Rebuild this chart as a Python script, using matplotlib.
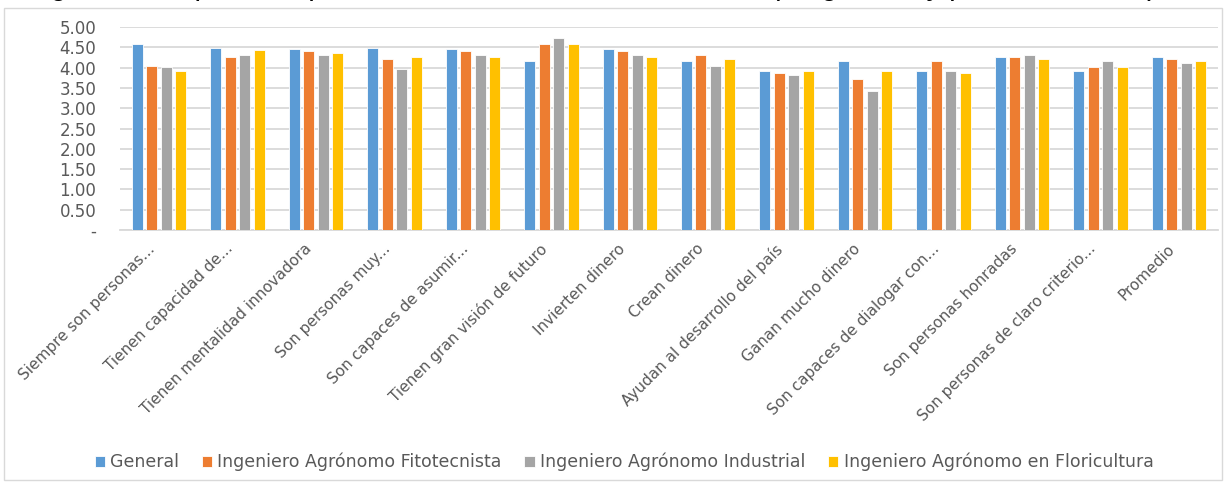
import numpy as np
import matplotlib
matplotlib.use("Agg")
import matplotlib.pyplot as plt
import matplotlib.transforms as mtransforms
from matplotlib.patches import Rectangle
from matplotlib.ticker import FuncFormatter

categories = [
    "Siempre son personas...", "Tienen capacidad de...", "Tienen mentalidad innovadora",
    "Son personas muy...", "Son capaces de asumir...", "Tienen gran visión de futuro",
    "Invierten dinero", "Crean dinero", "Ayudan al desarrollo del país",
    "Ganan mucho dinero", "Son capaces de dialogar con...", "Son personas honradas",
    "Son personas de claro criterio...", "Promedio",
]
series_names = ["General", "Ingeniero Agrónomo Fitotecnista",
                "Ingeniero Agrónomo Industrial", "Ingeniero Agrónomo en Floricultura"]
general      = [4.59, 4.49, 4.45, 4.49, 4.45, 4.16, 4.45, 4.16, 3.91, 4.16, 3.91, 4.25, 3.91, 4.25]
fitotecnista = [4.05, 4.25, 4.40, 4.20, 4.40, 4.59, 4.40, 4.30, 3.86, 3.72, 4.16, 4.25, 4.01, 4.20]
industrial   = [4.01, 4.30, 4.30, 3.96, 4.30, 4.73, 4.30, 4.05, 3.81, 3.43, 3.91, 4.30, 4.16, 4.11]
floricultura = [3.91, 4.44, 4.36, 4.25, 4.25, 4.59, 4.25, 4.20, 3.91, 3.91, 3.86, 4.20, 4.01, 4.16]
yticks = [0, 0.5, 1.0, 1.5, 2.0, 2.5, 3.0, 3.5, 4.0, 4.5, 5.0]

colors = ["#5B9BD5", "#ED7D31", "#A5A5A5", "#FFC000"]
W, H = 1225, 483
fig = plt.figure(figsize=(W / 100, H / 100), dpi=100)
ax = fig.add_axes([120 / W, 1 - 230 / H, (1218 - 120) / W, (230 - 27) / H])

x = np.arange(len(categories))
step, bw = 0.185, 0.14
for i, (vals, c, name) in enumerate(zip([general, fitotecnista, industrial, floricultura], colors, series_names)):
    ax.bar(x + (i - 1.5) * step, vals, width=bw, color=c, label=name, zorder=3,
           edgecolor="white", linewidth=0.6)

ax.set_xlim(-0.5, len(categories) - 0.5)
ax.set_ylim(0, 5)
ax.set_yticks(yticks)
ax.yaxis.set_major_formatter(FuncFormatter(lambda v, p: "-" if v == 0 else f"{v:.2f}"))
ax.grid(axis="y", color="#d9d9d9", linewidth=1.3, zorder=0)
for s in ["top", "right", "left"]:
    ax.spines[s].set_visible(False)
ax.spines["bottom"].set_color("#d9d9d9")
ax.spines["bottom"].set_linewidth(1.3)
ax.tick_params(axis="y", length=0, pad=17, labelsize=12, labelcolor="#595959")
ax.tick_params(axis="x", length=0, pad=8, labelsize=11, labelcolor="#595959")
ax.set_xticks(x)
ax.set_xticklabels(categories, rotation=45, ha="right", rotation_mode="anchor")
shift = mtransforms.ScaledTranslation(-12 / 100, 0, fig.dpi_scale_trans)
for lbl in ax.get_xticklabels():
    lbl.set_transform(lbl.get_transform() + shift)

fig.legend(loc="center", bbox_to_anchor=(624 / W, 1 - 462 / H), ncol=4, frameon=False,
           handlelength=0.6, handleheight=0.6, handletextpad=0.3, columnspacing=1.3,
           fontsize=12.5, labelcolor="#595959")

# chart area border
fig.patches.append(Rectangle((4 / W, 1 - 480 / H), (1222 - 4) / W, (480 - 8) / H,
                             transform=fig.transFigure, fill=False, edgecolor="#d9d9d9", linewidth=1))

# title, cut off at the top of the picture as in the source
fig.text(4 / W, 1 + 5.5 / H, "Imagen del empresario para los alumnos de la FCA-UAEM (en general y por licenciatura)",
         family="Liberation Sans", style="italic", fontsize=21, color="black", va="baseline", ha="left")

fig.savefig("out.png", dpi=100, facecolor="white")
